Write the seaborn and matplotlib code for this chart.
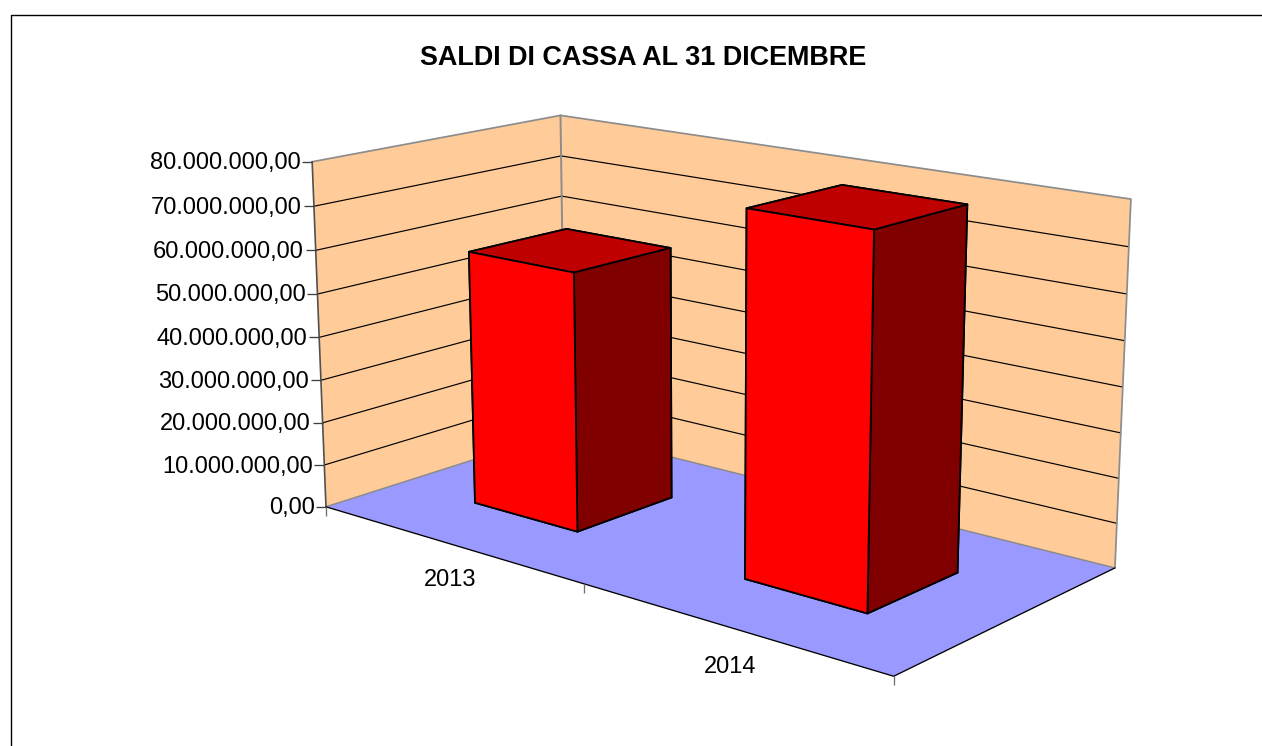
import numpy as np
import matplotlib
matplotlib.use("Agg")
import matplotlib.pyplot as plt
from matplotlib.lines import Line2D
from mpl_toolkits.mplot3d.art3d import Poly3DCollection
import seaborn as sns

# dati
anni = ["2013", "2014"]
saldi = [59000000, 79500000]
tick_valori = [0, 10000000, 20000000, 30000000, 40000000, 50000000, 60000000, 70000000, 80000000]
tick_label = ["0,00", "10.000.000,00", "20.000.000,00", "30.000.000,00", "40.000.000,00",
              "50.000.000,00", "60.000.000,00", "70.000.000,00", "80.000.000,00"]
titolo = "SALDI DI CASSA AL 31 DICEMBRE"

sns.set_theme(style="white")
plt.rcParams['font.family'] = ['Liberation Sans', 'DejaVu Sans']

W, H = 1262, 746
fig = plt.figure(figsize=(W / 100, H / 100), dpi=100, facecolor="white")
ax = fig.add_subplot(projection="3d")
ax.computed_zorder = False
ax.set_axis_off()

n = len(anni)
zmax = tick_valori[-1]
col_parete = "#FFCC99"
col_base = "#9999FF"
col_bordo = "#8C8C8C"

# pareti e base
parete_sx = [(0, 0, 0), (0, 1, 0), (0, 1, zmax), (0, 0, zmax)]
parete_dx = [(0, 1, 0), (n, 1, 0), (n, 1, zmax), (0, 1, zmax)]
base = [(0, 0, 0), (n, 0, 0), (n, 1, 0), (0, 1, 0)]
ax.add_collection3d(Poly3DCollection([parete_sx, parete_dx], facecolors=col_parete,
                                     edgecolors="none", zorder=1))
ax.add_collection3d(Poly3DCollection([base], facecolors=col_base, edgecolors="none", zorder=1.5))

# griglia
for v in tick_valori[1:-1]:
    ax.plot([0, 0, n], [0, 1, 1], [v, v, v], color="black", lw=0.85, zorder=2)

# bordi delle pareti
ax.plot([0, 0, n, n], [0, 1, 1, 1], [zmax, zmax, zmax, 0], color=col_bordo, lw=1.25, zorder=2.1)
ax.plot([0, 0], [1, 1], [0, zmax], color=col_bordo, lw=1.4, zorder=2.1)
ax.plot([0, 0, n], [0, 1, 1], [0, 0, 0], color=col_bordo, lw=1.1, zorder=2.1)

# assi
ax.plot([0, 0], [0, 0], [0, zmax], color="#505050", lw=1.2, zorder=2.2)
ax.plot([0, n, n], [0, 0, 1], [0, 0, 0], color="black", lw=0.95, zorder=2.2)
for v, lab in zip(tick_valori, tick_label):
    ax.plot([0], [0], [v], marker=0, ms=7, mew=0.95, mec="#404040", zorder=2.2)
    ax.text(-0.022, -0.024, v - 250000, lab, ha="right", va="center", fontsize=17, color="black", zorder=5)
for i in range(n + 1):
    ax.plot([i], [0], [0], marker=3, ms=6.5, mew=0.95, mec="#707070", zorder=2.2)

# barre: -z, +z, -y, +y, -x, +x
facce = ["#FF0000", "#BF0000", "#FF0000", "#800000", "#FF0000", "#800000"]
for i, (anno, s) in enumerate(zip(anni, saldi)):
    ax.bar3d(i + 0.3, 0.3, 0, 0.4, 0.4, s, color=facce, edgecolor="black",
             linewidth=1.3, shade=False, zorder=3 + i * 0.1)
    ax.text(i + 0.498, 0, -8500000, anno, ha="center", va="center", fontsize=17, color="black", zorder=5)

ax.set_xlim(0, n, view_margin=0)
ax.set_ylim(0, 1, view_margin=0)
ax.set_zlim(0, zmax, view_margin=0)
ax.set_xticks([])
ax.set_yticks([])
ax.set_zticks([])
for asse in (ax.xaxis, ax.yaxis, ax.zaxis):
    asse.set_visible(False)
ax.view_init(elev=15, azim=-50, roll=0)
ax.set_proj_type("persp", focal_length=0.5446)
ax.set_box_aspect((2, 1, 1))
cx, cy, s = 694.72, 373.17, 877.47
ax.set_position([(cx - s / 2) / W, 1 - (cy + s / 2) / H, s / W, s / H])

fig.text(643.5 / W, 1 - 58 / H, titolo, ha="center", va="center", fontsize=19.45,
         fontweight="bold", color="black")

# cornice
fig.add_artist(Line2D([10.5 / W, 10.5 / W, 1.0], [0, 1 - 14.5 / H, 1 - 14.5 / H],
                      color="black", lw=1.0, transform=fig.transFigure))

fig.savefig("out.png", dpi=100)
